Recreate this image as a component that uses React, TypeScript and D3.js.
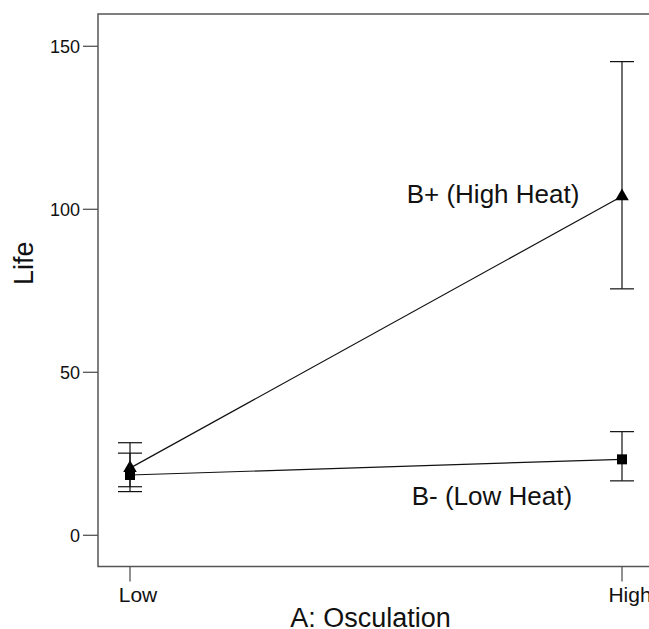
import React, { useRef, useEffect } from "react";
import * as d3 from "d3";

const levels = ["Low", "High"];
const seriesNames = ["B+ (High Heat)", "B- (Low Heat)"];
const bPlusMean = [20.6, 104];
const bPlusLow = [13.4, 75.6];
const bPlusHigh = [28.4, 145.3];
const bMinusMean = [18.5, 23.3];
const bMinusLow = [14.9, 16.7];
const bMinusHigh = [25.2, 31.8];
const yTicks = [0, 50, 100, 150];

const WIDTH = 649;
const HEIGHT = 629;
const FONT = "'Liberation Sans', Arial, Helvetica, sans-serif";

function drawChart(svgEl: SVGSVGElement) {
  const svg = d3.select(svgEl);
  svg.selectAll("*").remove();

  const frame = { left: 98, top: 14, bottom: 566.5, right: 720 };

  const x = d3.scalePoint<string>().domain(levels).range([130, 622]);
  const y = d3.scaleLinear().domain([0, 150]).range([535.3, 46.3]);

  // frame
  svg
    .append("rect")
    .attr("x", frame.left)
    .attr("y", frame.top)
    .attr("width", frame.right - frame.left)
    .attr("height", frame.bottom - frame.top)
    .attr("fill", "none")
    .attr("stroke", "#555")
    .attr("stroke-width", 1.5);

  // y axis ticks
  const yAxis = svg.append("g");
  yTicks.forEach((t) => {
    yAxis
      .append("line")
      .attr("x1", frame.left - 15)
      .attr("x2", frame.left)
      .attr("y1", y(t))
      .attr("y2", y(t))
      .attr("stroke", "#555")
      .attr("stroke-width", 1.3);
    yAxis
      .append("text")
      .attr("x", frame.left - 18)
      .attr("y", y(t))
      .attr("dy", "0.36em")
      .attr("text-anchor", "end")
      .style("font-family", FONT)
      .style("font-size", "18px")
      .attr("fill", "#111")
      .text(t);
  });

  // x axis ticks
  const xAxis = svg.append("g");
  levels.forEach((l) => {
    const px = x(l) as number;
    xAxis
      .append("line")
      .attr("x1", px)
      .attr("x2", px)
      .attr("y1", frame.bottom)
      .attr("y2", frame.bottom + 15)
      .attr("stroke", "#555")
      .attr("stroke-width", 1.3);
    xAxis
      .append("text")
      .attr("x", px)
      .attr("dx", 8)
      .attr("y", 602.3)
      .attr("text-anchor", "middle")
      .style("font-family", FONT)
      .style("font-size", "21px")
      .attr("fill", "#111")
      .text(l);
  });

  // axis titles
  svg
    .append("text")
    .attr("x", 370.5)
    .attr("y", 627)
    .attr("text-anchor", "middle")
    .style("font-family", FONT)
    .style("font-size", "27px")
    .attr("fill", "#111")
    .text("A: Osculation");

  svg
    .append("text")
    .attr("transform", "translate(33, 263.3) rotate(-90)")
    .attr("text-anchor", "middle")
    .style("font-family", FONT)
    .style("font-size", "27px")
    .attr("fill", "#111")
    .text("Life");

  const series = [
    { name: seriesNames[0], mean: bPlusMean, lo: bPlusLow, hi: bPlusHigh, symbol: d3.symbolTriangle, size: 80 },
    { name: seriesNames[1], mean: bMinusMean, lo: bMinusLow, hi: bMinusHigh, symbol: d3.symbolSquare, size: 100 },
  ];

  const line = d3
    .line<number>()
    .x((_, i) => x(levels[i]) as number)
    .y((d) => y(d));

  series.forEach((s) => {
    const g = svg.append("g");
    // error bars
    levels.forEach((l, i) => {
      const px = x(l) as number;
      g.append("line")
        .attr("x1", px)
        .attr("x2", px)
        .attr("y1", y(s.lo[i]))
        .attr("y2", y(s.hi[i]))
        .attr("stroke", "#111")
        .attr("stroke-width", 1.2);
      [s.lo[i], s.hi[i]].forEach((v) => {
        g.append("line")
          .attr("x1", px - 12)
          .attr("x2", px + 12)
          .attr("y1", y(v))
          .attr("y2", y(v))
          .attr("stroke", "#111")
          .attr("stroke-width", 1.2);
      });
    });
    g.append("path")
      .attr("d", line(s.mean))
      .attr("fill", "none")
      .attr("stroke", "#111")
      .attr("stroke-width", 1.2);
    g.selectAll("path.marker")
      .data(s.mean)
      .enter()
      .append("path")
      .attr("class", "marker")
      .attr("d", d3.symbol().type(s.symbol).size(s.size)())
      .attr(
        "transform",
        (d, i) => `translate(${x(levels[i])}, ${y(d)})`
      )
      .attr("fill", "#000");
  });

  // series annotations
  svg
    .append("text")
    .attr("x", 406.7)
    .attr("y", 203.3)
    .style("font-family", FONT)
    .style("font-size", "26px")
    .attr("fill", "#111")
    .text(seriesNames[0]);
  svg
    .append("text")
    .attr("x", 411.7)
    .attr("y", 505)
    .style("font-family", FONT)
    .style("font-size", "26px")
    .attr("fill", "#111")
    .text(seriesNames[1]);
}

const App: React.FunctionComponent = function () {
  const svgRef = useRef<SVGSVGElement>(null);

  useEffect(() => {
    if (svgRef.current == null) {
      return;
    }
    drawChart(svgRef.current);
  }, []);

  return (
    <div style={{ position: "absolute", left: 0, top: 0, background: "#fff" }}>
      <svg ref={svgRef} width={WIDTH} height={HEIGHT} style={{ display: "block" }}></svg>
    </div>
  );
};

export default App;
